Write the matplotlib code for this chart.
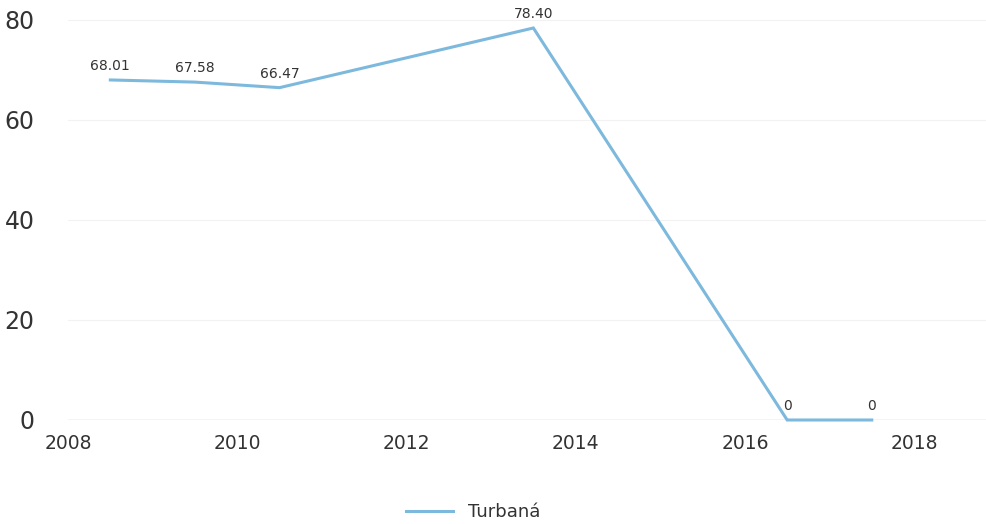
import matplotlib.pyplot as plt

years = [2008.5, 2009.5, 2010.5, 2013.5, 2016.5, 2017.5]
values = [68.01, 67.58, 66.47, 78.4, 0, 0]
labels = ['68.01', '67.58', '66.47', '78.40', '0', '0']
series_name = 'Turbaná'
xticks = [2008, 2010, 2012, 2014, 2016, 2018]
yticks = [0, 20, 40, 60, 80]

fig = plt.figure(figsize=(9.86, 5.24), dpi=100)
ax = fig.add_axes([0.069, 0.1985, 0.931, 0.8015])

ax.axhline(0, color='#cfcfcf', lw=1, zorder=1)
ax.plot(years, values, color='#7db9dd', lw=2.2, label=series_name,
        solid_joinstyle='miter', clip_on=False, zorder=3)
for x, y, t in zip(years, values, labels):
    ax.annotate(t, (x, y), xytext=(0, 5), textcoords='offset points',
                ha='center', va='bottom', fontsize=10, color='#333333',
                annotation_clip=False)

ax.set_xlim(2008, 2018.85)
ax.set_ylim(0, 84)
ax.set_xticks(xticks)
ax.set_yticks(yticks)
ax.tick_params(axis='x', length=0, pad=10, labelsize=13.5, labelcolor='#333333')
ax.tick_params(axis='y', length=0, pad=24, labelsize=17, labelcolor='#333333')
for s in ax.spines.values():
    s.set_visible(False)
ax.grid(axis='y', color='#f2f2f2', lw=0.8)

fig.legend(loc='lower center', bbox_to_anchor=(0.48, -0.025), frameon=False,
           fontsize=13, handlelength=2.6, labelcolor='#333333')

fig.savefig('out.png', dpi=100)
